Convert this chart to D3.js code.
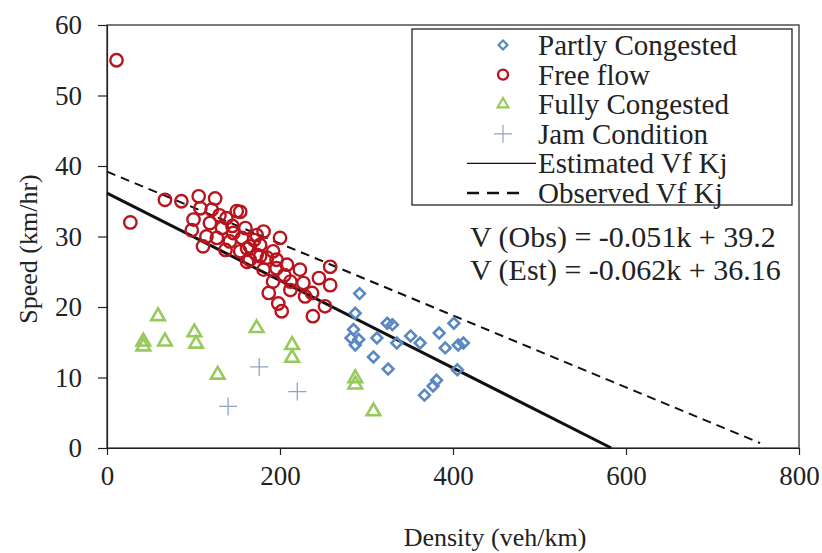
<!DOCTYPE html>
<html>
<head>
<meta charset="utf-8">
<script src="https://cdn.jsdelivr.net/npm/d3@7"></script>
<style>
  body { margin: 0; background: #fff; }
</style>
</head>
<body>
<div id="svgpic"></div>
<script>
  // data: [density, speed]
  var partlyCongested = [[292,21.9],[287,19.1],[285,16.8],[282,15.6],[291,15.4],[287,14.6],[324,17.7],[330,17.5],
    [312,15.6],[335,14.9],[351,15.9],[362,14.9],[384,16.3],[401,17.7],[391,14.2],[406,14.6],[412,14.9],
    [308,12.9],[325,11.2],[405,11.1],[381,9.6],[377,8.8],[367,7.5]];
  var freeFlow = [[11,55],[27,32],[67,35.2],[86,35],[106,35.7],[125,35.4],[108,34],[121,33.8],[150,33.6],
    [100,32.4],[119,31.9],[138,32.6],[98,30.9],[133,31.2],[146,30.5],[160,31.2],[111,28.6],[127,29.8],
    [142,29.3],[156,29.8],[165,28.6],[137,28.1],[154,27.9],[173,30.2],[173,27.4],[181,30.7],[200,29.8],
    [162,28.3],[177,28.8],[192,27.9],[177,27.2],[196,26.7],[165,26.7],[162,26.4],[208,26],[223,25.3],
    [181,25.3],[196,25.5],[258,25.7],[245,24.1],[258,23.1],[192,23.6],[212,23.6],[227,23.4],[187,22],
    [212,22.4],[229,21.5],[237,22],[198,20.5],[202,19.4],[252,20.1],[238,18.7],[154,33.5],[115,30],
    [130,33],[145,31.5],[185,27],[205,24.5],[170,29.5]];
  var fullyCongested = [[59,18.7],[42,15.1],[42,14.4],[67,15.1],[101,16.4],[103,14.8],[173,17],[214,14.6],
    [214,12.8],[128,10.4],[287,9.9],[287,9],[308,5.2]];
  var jamCondition = [[176,11.5],[140,5.9],[220,8]];
  // fitted lines: [density, speed] end points
  var estimatedLine = [[0,36.16],[583,0]];
  var observedLine = [[0,39.2],[755,0.7]];
  var xTicks = [0,200,400,600,800];
  var yTicks = [0,10,20,30,40,50,60];
  var legendLabels = ["Partly Congested","Free flow","Fully Congested","Jam Condition","Estimated Vf Kj","Observed Vf Kj"];
  var equations = ["V (Obs) = -0.051k + 39.2","V (Est) = -0.062k + 36.16"];

  var width = 822;
  var height = 553;
  var serif = "'Liberation Serif', 'Times New Roman', 'DejaVu Serif', serif";
  var svg = d3.select("#svgpic").append("svg")
              .attr("width",width)
              .attr("height",height)
              .attr("font-family",serif);

  var x = d3.scaleLinear().domain([0,800]).range([107,799]);
  var y = d3.scaleLinear().domain([0,60]).range([448,25]);

  var blue = "#5a88c0", red = "#b8141e", green = "#97c95c", plusCol = "#8fa4c4";

  // frame
  svg.append("rect")
     .attr("x",x(0)).attr("y",y(60))
     .attr("width",x(800)-x(0)).attr("height",y(0)-y(60))
     .attr("fill","none").attr("stroke","#222").attr("stroke-width",1.2);

  var xAxis = svg.append("g").attr("transform","translate(0,"+y(0)+")")
    .call(d3.axisBottom(x).tickValues(xTicks).tickSize(7).tickSizeOuter(0).tickPadding(11));
  var yAxis = svg.append("g").attr("transform","translate("+x(0)+",0)")
    .call(d3.axisLeft(y).tickValues(yTicks).tickSize(9).tickSizeOuter(0).tickPadding(16));
  [xAxis,yAxis].forEach(function(g){
    g.attr("font-family",serif).attr("font-size",27);
    g.select(".domain").attr("stroke","#222").attr("stroke-width",1.2);
    g.selectAll(".tick line").attr("stroke","#222").attr("stroke-width",1.2);
    g.selectAll(".tick text").attr("fill","#222");
  });

  svg.append("text").attr("x",495).attr("y",546).attr("text-anchor","middle")
     .attr("font-size",26).attr("fill","#222").text("Density (veh/km)");
  svg.append("text").attr("transform","translate(37,249) rotate(-90)").attr("text-anchor","middle")
     .attr("font-size",26).attr("fill","#222").text("Speed (km/hr)");

  // lines
  var line = d3.line().x(function(d){ return x(d[0]); }).y(function(d){ return y(d[1]); });
  svg.append("path").datum(observedLine).attr("d",line)
     .attr("fill","none").attr("stroke","#111").attr("stroke-width",2).attr("stroke-dasharray","9,6");
  svg.append("path").datum(estimatedLine).attr("d",line)
     .attr("fill","none").attr("stroke","#111").attr("stroke-width",3);

  // markers
  var diamond = d3.symbol().type(d3.symbolSquare).size(58);
  svg.append("g").selectAll("path").data(partlyCongested).enter().append("path")
     .attr("d",diamond)
     .attr("transform",function(d){ return "translate("+x(d[0])+","+y(d[1])+") rotate(45)"; })
     .attr("fill","none").attr("stroke",blue).attr("stroke-width",2.6);

  svg.append("g").selectAll("circle").data(freeFlow).enter().append("circle")
     .attr("cx",function(d){ return x(d[0]); })
     .attr("cy",function(d){ return y(d[1]); })
     .attr("r",6.2)
     .attr("fill","none").attr("stroke",red).attr("stroke-width",2.4);

  var tri = d3.symbol().type(d3.symbolTriangle).size(80);
  svg.append("g").selectAll("path").data(fullyCongested).enter().append("path")
     .attr("d",tri)
     .attr("transform",function(d){ return "translate("+x(d[0])+","+y(d[1])+")"; })
     .attr("fill","none").attr("stroke",green).attr("stroke-width",2.6);

  svg.append("g").selectAll("path").data(jamCondition).enter().append("path")
     .attr("d","M-9,0H9M0,-9V9")
     .attr("transform",function(d){ return "translate("+x(d[0])+","+y(d[1])+")"; })
     .attr("fill","none").attr("stroke",plusCol).attr("stroke-width",1.3);

  // legend
  var lg = svg.append("g");
  lg.append("rect").attr("x",412).attr("y",29).attr("width",380).attr("height",176)
    .attr("fill","#fff").attr("stroke","#222").attr("stroke-width",1.3);
  var rowY = d3.scalePoint().domain(legendLabels).range([45,193]);
  lg.selectAll("text").data(legendLabels).enter().append("text")
    .attr("x",538).attr("y",function(d){ return rowY(d)+10; })
    .attr("font-size",29).attr("fill","#222").text(function(d){ return d; });
  var mx = 503;
  lg.append("path").attr("d",d3.symbol().type(d3.symbolSquare).size(40))
    .attr("transform","translate("+mx+","+rowY(legendLabels[0])+") rotate(45)")
    .attr("fill","none").attr("stroke",blue).attr("stroke-width",2.2);
  lg.append("circle").attr("cx",mx).attr("cy",rowY(legendLabels[1])).attr("r",5)
    .attr("fill","none").attr("stroke",red).attr("stroke-width",2.4);
  lg.append("path").attr("d",d3.symbol().type(d3.symbolTriangle).size(50))
    .attr("transform","translate("+mx+","+rowY(legendLabels[2])+")")
    .attr("fill","none").attr("stroke",green).attr("stroke-width",2.2);
  lg.append("path").attr("d","M-9,0H9M0,-9V9")
    .attr("transform","translate("+mx+","+rowY(legendLabels[3])+")")
    .attr("fill","none").attr("stroke",plusCol).attr("stroke-width",1.2);
  lg.append("line").attr("x1",467).attr("x2",536)
    .attr("y1",rowY(legendLabels[4])).attr("y2",rowY(legendLabels[4]))
    .attr("stroke","#111").attr("stroke-width",1.3);
  lg.append("line").attr("x1",467).attr("x2",527)
    .attr("y1",rowY(legendLabels[5])).attr("y2",rowY(legendLabels[5]))
    .attr("stroke","#111").attr("stroke-width",2.4).attr("stroke-dasharray","12,8");

  // equations
  svg.selectAll("text.eq").data(equations).enter().append("text")
     .attr("class","eq").attr("x",470).attr("y",function(d,i){ return 247+i*33; })
     .attr("font-size",30).attr("fill","#222").text(function(d){ return d; });
</script>
</body>
</html>
